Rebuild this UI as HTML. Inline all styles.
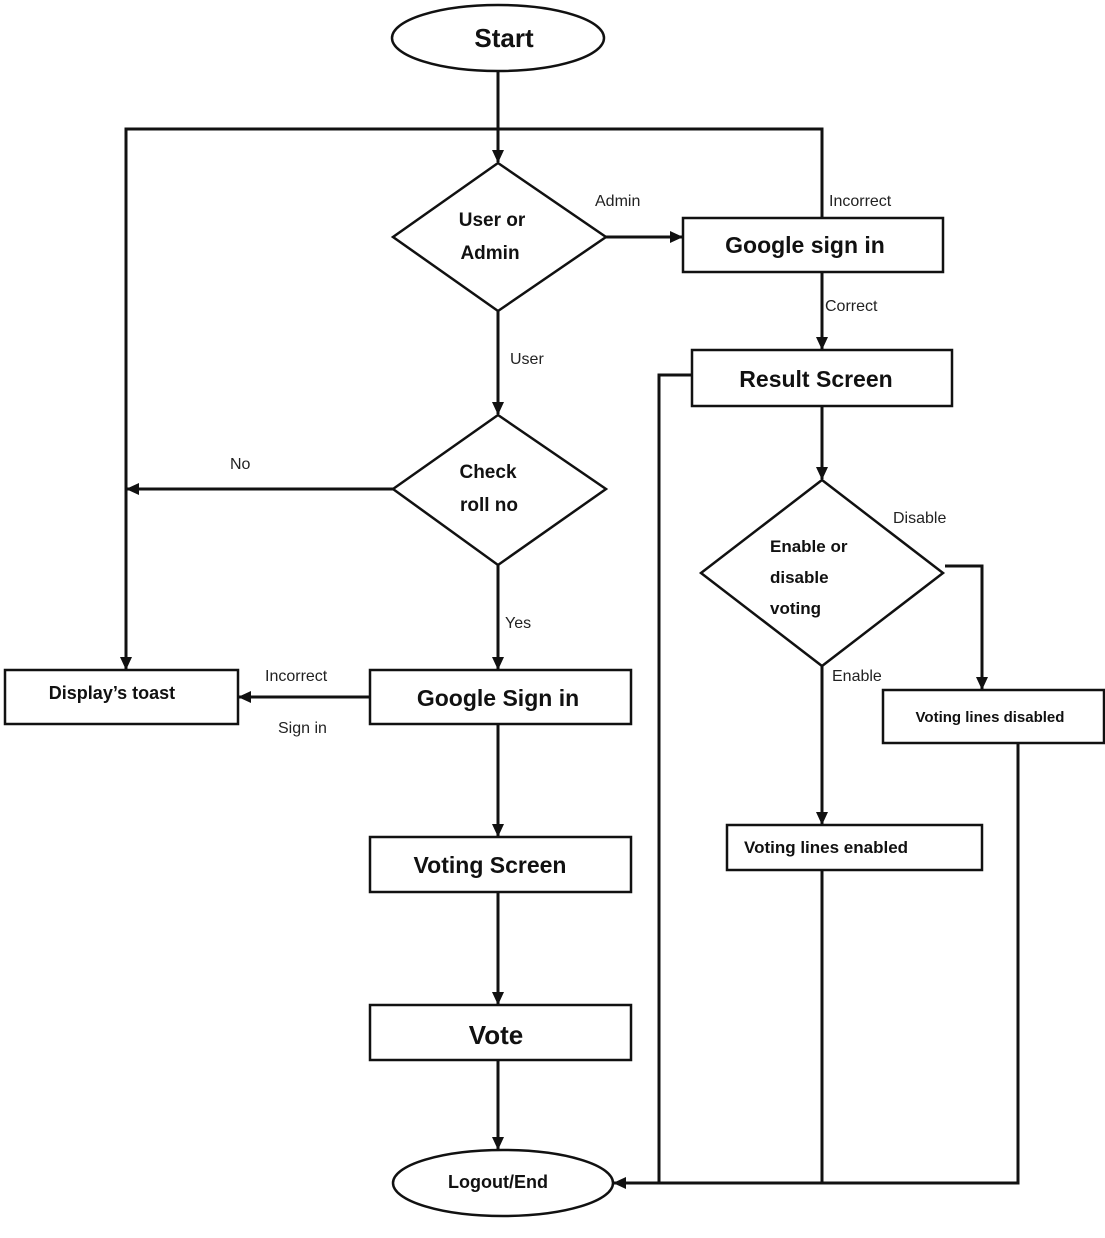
<!DOCTYPE html>
<html><head><style>html,body{margin:0;padding:0;background:#fff}</style></head><body>
<svg width="1105" height="1233" viewBox="0 0 1105 1233" xmlns="http://www.w3.org/2000/svg" font-family="Liberation Sans, sans-serif">
<defs><marker id="a" markerWidth="14" markerHeight="14" refX="12" refY="6" orient="auto" markerUnits="userSpaceOnUse"><path d="M0,0 L13,6 L0,12 z" fill="#111"/></marker></defs>
<g stroke="#111" stroke-width="2.5" fill="none">
<ellipse cx="498" cy="38" rx="106" ry="33" fill="#fff"/>
<ellipse cx="503" cy="1183" rx="110" ry="33" fill="#fff"/>
<polygon points="498,163 606,237 498,311 393,237" fill="#fff"/>
<polygon points="498,415 606,489 498,565 393,489" fill="#fff"/>
<polygon points="822,480 943,573 822,666 701,573" fill="#fff"/>
<rect x="683" y="218" width="260" height="54"/>
<rect x="692" y="350" width="260" height="56"/>
<rect x="883" y="690" width="221" height="53"/>
<rect x="727" y="825" width="255" height="45"/>
<rect x="370" y="670" width="261" height="54"/>
<rect x="5" y="670" width="233" height="54"/>
<rect x="370" y="837" width="261" height="55"/>
<rect x="370" y="1005" width="261" height="55"/>
</g>
<g stroke="#111" stroke-width="3" fill="none">
<line x1="498" y1="72" x2="498" y2="162" marker-end="url(#a)"/>
<polyline points="822,218 822,129 126,129 126,669" marker-end="url(#a)"/>
<line x1="606" y1="237" x2="682" y2="237" marker-end="url(#a)"/>
<line x1="822" y1="272" x2="822" y2="349" marker-end="url(#a)"/>
<polyline points="692,375 659,375 659,1183"/>
<line x1="822" y1="406" x2="822" y2="479" marker-end="url(#a)"/>
<polyline points="945,566 982,566 982,689" marker-end="url(#a)"/>
<line x1="822" y1="666" x2="822" y2="824" marker-end="url(#a)"/>
<line x1="822" y1="870" x2="822" y2="1183"/>
<polyline points="1018,743 1018,1183 614,1183" marker-end="url(#a)"/>
<line x1="498" y1="311" x2="498" y2="414" marker-end="url(#a)"/>
<line x1="393" y1="489" x2="127" y2="489" marker-end="url(#a)"/>
<line x1="498" y1="565" x2="498" y2="669" marker-end="url(#a)"/>
<line x1="370" y1="697" x2="239" y2="697" marker-end="url(#a)"/>
<line x1="498" y1="724" x2="498" y2="836" marker-end="url(#a)"/>
<line x1="498" y1="892" x2="498" y2="1004" marker-end="url(#a)"/>
<line x1="498" y1="1060" x2="498" y2="1149" marker-end="url(#a)"/>
</g>
<g fill="#111" font-weight="bold">
<text x="504" y="47" font-size="26" text-anchor="middle">Start</text>
<text x="492" y="226" font-size="19" text-anchor="middle">User or</text>
<text x="490" y="259" font-size="19" text-anchor="middle">Admin</text>
<text x="805" y="253" font-size="23" text-anchor="middle">Google sign in</text>
<text x="816" y="387" font-size="23" text-anchor="middle">Result Screen</text>
<text x="770" y="552" font-size="17">Enable or</text>
<text x="770" y="583" font-size="17">disable</text>
<text x="770" y="614" font-size="17">voting</text>
<text x="990" y="722" font-size="15" text-anchor="middle">Voting lines disabled</text>
<text x="744" y="853" font-size="17">Voting lines  enabled</text>
<text x="488" y="478" font-size="19" text-anchor="middle">Check</text>
<text x="489" y="511" font-size="19" text-anchor="middle">roll no</text>
<text x="498" y="706" font-size="23" text-anchor="middle">Google Sign in</text>
<text x="112" y="699" font-size="18" text-anchor="middle">Display’s toast</text>
<text x="490" y="873" font-size="23" text-anchor="middle">Voting Screen</text>
<text x="496" y="1044" font-size="26" text-anchor="middle">Vote</text>
<text x="498" y="1188" font-size="18" text-anchor="middle">Logout/End</text>
</g>
<g fill="#222" font-size="16">
<text x="595" y="206">Admin</text>
<text x="829" y="206">Incorrect</text>
<text x="825" y="311">Correct</text>
<text x="893" y="523">Disable</text>
<text x="832" y="681">Enable</text>
<text x="510" y="364">User</text>
<text x="230" y="469">No</text>
<text x="505" y="628">Yes</text>
<text x="265" y="681">Incorrect</text>
<text x="278" y="733">Sign in</text>
</g>
</svg>
</body></html>
